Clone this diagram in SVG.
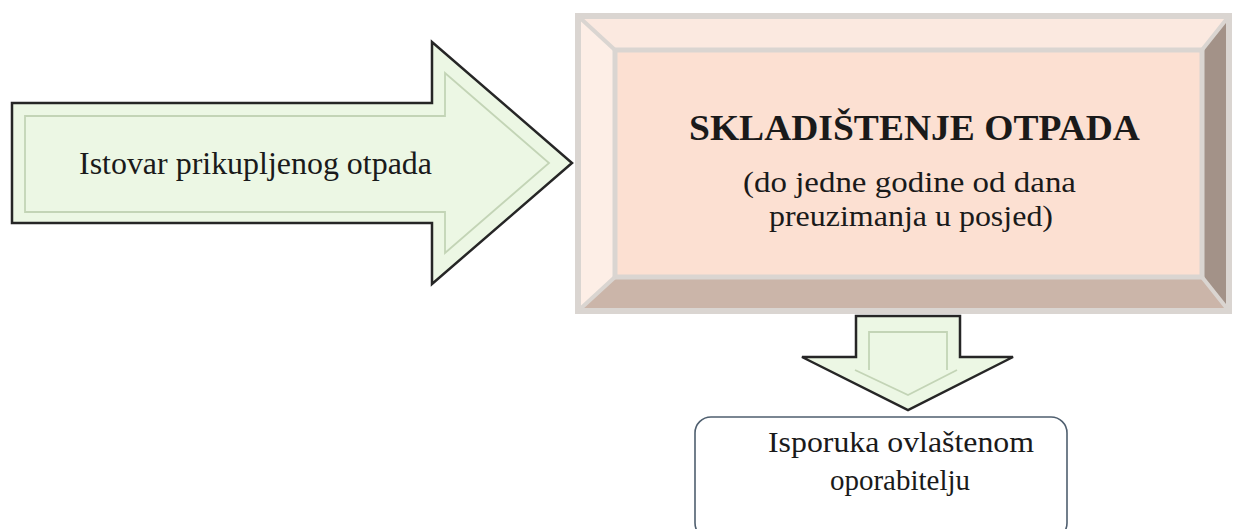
<svg xmlns="http://www.w3.org/2000/svg" width="1235" height="529" viewBox="0 0 1235 529">
  <style>
    .txt { font-family: "Liberation Serif", "Times New Roman", serif; fill: #1a1a1a; }
    .arrow { fill: #ecf7e4; stroke: #262626; stroke-width: 2.5; stroke-linejoin: miter; }
    .arrow-in { fill: none; stroke: #c3d4b6; stroke-width: 1.8; }
    .edge { fill: none; stroke: #dad5d1; }
  </style>
  <rect width="1235" height="529" fill="#ffffff"/>

  <g id="connectors">
    <g id="arrow-down">
      <path class="arrow" d="M856,316 H960 V357 H1013 L908,410 L802,357 H856 Z"/>
      <path class="arrow-in" d="M869,370 V332 H947 V370 M855,370 L908,395 L957,370"/>
    </g>
  </g>

  <g id="node-istovar">
    <path class="arrow" d="M12,103 H432 V42 L572,163 L432,284 V223 H12 Z"/>
    <path class="arrow-in" d="M25,116 H445 V73 L549,163 L445,253 V212 H25 Z"/>
    <text class="txt" x="79" y="174" font-size="31" textLength="353" lengthAdjust="spacingAndGlyphs">Istovar prikupljenog otpada</text>
  </g>

  <g id="node-skladistenje">
    <rect x="575" y="13" width="657" height="301" fill="#fde4d8"/>
    <polygon points="575,13 1232,13 1202,50 615,50" fill="#fbe9e0"/>
    <polygon points="575,13 615,50 615,277 575,314" fill="#fdeee6"/>
    <polygon points="1232,13 1232,314 1202,277 1202,50" fill="#a39288"/>
    <polygon points="575,314 615,277 1202,277 1232,314" fill="#cbb5a9"/>
    <rect x="615" y="50" width="587" height="227" fill="#fce0d2"/>
    <rect class="edge" x="578" y="16" width="651" height="295" stroke-width="6"/>
    <rect class="edge" x="615" y="50" width="587" height="227" stroke-width="5"/>
    <path class="edge" stroke-width="4" d="M578,16 L615,50 M1229,16 L1202,50 M578,311 L615,277 M1229,311 L1202,277"/>
    <text class="txt" x="689" y="140" font-size="35" font-weight="bold" textLength="451" lengthAdjust="spacingAndGlyphs">SKLADIŠTENJE OTPADA</text>
    <text class="txt" x="743" y="192" font-size="29" textLength="333" lengthAdjust="spacingAndGlyphs">(do jedne godine od dana</text>
    <text class="txt" x="769" y="226" font-size="29" textLength="284" lengthAdjust="spacingAndGlyphs">preuzimanja u posjed)</text>
  </g>

  <g id="node-isporuka">
    <rect x="695" y="417" width="372" height="122" rx="16" ry="16" fill="#ffffff" stroke="#4f5f6f" stroke-width="1.6"/>
    <text class="txt" x="768" y="452" font-size="29" textLength="266" lengthAdjust="spacingAndGlyphs">Isporuka ovlaštenom</text>
    <text class="txt" x="830" y="490" font-size="29" textLength="140" lengthAdjust="spacingAndGlyphs">oporabitelju</text>
  </g>
</svg>
